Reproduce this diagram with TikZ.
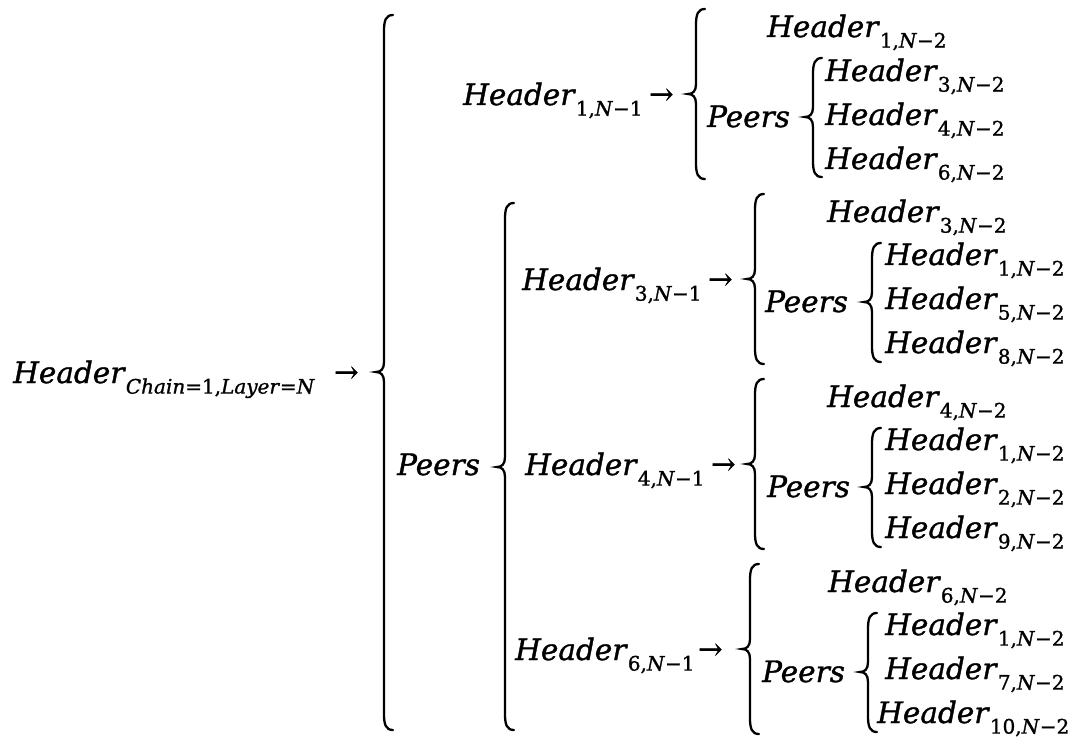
\documentclass[tikz,border=0pt]{standalone}
\usepackage{fontspec}
\setmainfont{DejaVu Serif}[FakeBold=1.2]
\newcommand{\hsub}[1]{\raisebox{-0.36em}{\fontsize{20}{20}\selectfont #1}}
\newcommand{\hh}[2]{\textit{Header}\hsub{#1,\textit{N}−#2}}
\newcommand{\drawbrace}[4]{%
  \draw[brc] ({#1+9},#2) .. controls ({#1+2},#2) and (#1,{#2+5}) .. (#1,{#2+16})
    -- (#1,{#3-10}) .. controls (#1,{#3-3}) and ({#1-3},#3) .. ({#1-8},#3)
    .. controls ({#1-3},#3) and (#1,{#3+3}) .. (#1,{#3+10})
    -- (#1,{#4-16}) .. controls (#1,{#4-5}) and ({#1+2},#4) .. ({#1+9},#4);}
\tikzset{
  txt/.style={anchor=base west, inner sep=0pt, font=\fontsize{29.5}{30}\selectfont},
  arr/.style={anchor=base west, inner sep=0pt, font=\fontsize{29}{29}\selectfont},
  brc/.style={line width=2.3pt, line cap=round}
}
\begin{document}
\begin{tikzpicture}[x=1pt,y=-1pt]
\useasboundingbox (0,0) rectangle (1071,738);
% root
\node[txt] (root) at (13,383) {\textit{Header}\hsub{\textit{Chain}=1,\textit{Layer}=\textit{N}}};
\node[arr] (rarr) at (334,382) {→};
\drawbrace{384}{15}{372}{730}
\node[txt] (peers0) at (397,475) {\textit{Peers}};
\drawbrace{505}{203}{467}{730}
% block 1
\node[txt] (h1) at (463,105) {\hh{1}{1}};
\node[arr] (a1) at (649,104) {→};
\drawbrace{696}{9}{94}{179}
\node[txt] (h1t) at (767,37) {\hh{1}{2}};
\node[txt] (p1) at (707,127) {\textit{Peers}};
\drawbrace{813}{58}{117}{177}
\node[txt] (h1a) at (825,81) {\hh{3}{2}};
\node[txt] (h1b) at (825,125) {\hh{4}{2}};
\node[txt] (h1c) at (825,169) {\hh{6}{2}};
% block 3
\node[txt] (h3) at (522,290) {\hh{3}{1}};
\node[arr] (a3) at (708,289) {→};
\drawbrace{755}{194}{279}{364}
\node[txt] (h3t) at (827,222) {\hh{3}{2}};
\node[txt] (p3) at (765,312) {\textit{Peers}};
\drawbrace{872}{243}{302}{362}
\node[txt] (h3a) at (885,265) {\hh{1}{2}};
\node[txt] (h3b) at (885,309) {\hh{5}{2}};
\node[txt] (h3c) at (885,353) {\hh{8}{2}};
% block 4
\node[txt] (h4) at (525,475) {\hh{4}{1}};
\node[arr] (a4) at (711,474) {→};
\drawbrace{755}{379}{464}{549}
\node[txt] (h4t) at (827,407) {\hh{4}{2}};
\node[txt] (p4) at (767,497) {\textit{Peers}};
\drawbrace{872}{428}{487}{547}
\node[txt] (h4a) at (885,450) {\hh{1}{2}};
\node[txt] (h4b) at (885,494) {\hh{2}{2}};
\node[txt] (h4c) at (885,538) {\hh{9}{2}};
% block 6
\node[txt] (h6) at (515,660) {\hh{6}{1}};
\node[arr] (a6) at (698,659) {→};
\drawbrace{750}{564}{649}{734}
\node[txt] (h6t) at (828,592) {\hh{6}{2}};
\node[txt] (p6) at (762,682) {\textit{Peers}};
\drawbrace{868}{613}{672}{732}
\node[txt] (h6a) at (885,635) {\hh{1}{2}};
\node[txt] (h6b) at (885,679) {\hh{7}{2}};
\node[txt] (h6c) at (877,723) {\hh{10}{2}};
\end{tikzpicture}
\end{document}
